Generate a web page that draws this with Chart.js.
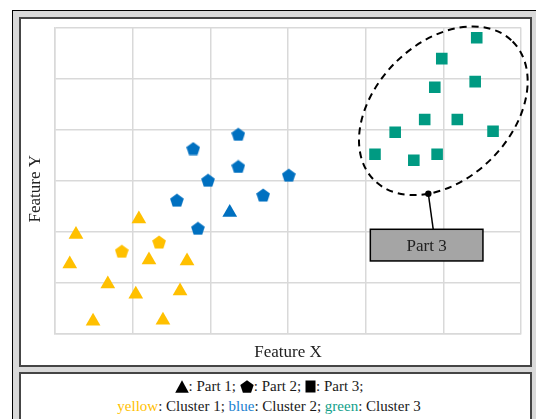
<!DOCTYPE html>
<html>
<head>
<meta charset="utf-8">
<script src="https://cdn.jsdelivr.net/npm/chart.js@4.4.1/dist/chart.umd.min.js"></script>
<style>
    body { margin: 0; background: #ffffff; overflow: hidden; width: 536px; height: 419px; position: relative; }
    #frame { position: absolute; left: 12px; top: 10px; width: 600px; height: 600px; background: #d9d9d9; border-left: 1px solid #000; border-top: 1px solid #000; }
    #panel { position: absolute; left: 19px; top: 17px; width: 509px; height: 346px; border: 2px solid #454545; background: #fff; }
    #legend { position: absolute; left: 19px; top: 372px; width: 509px; height: 80px; border: 2px solid #454545; background: #fff;
              font-family: "Liberation Serif", serif; font-size: 15px; line-height: 20px; color: #1a1a1a; text-align: center;
              box-sizing: content-box; padding-top: 2px; }
    #legend .inner { padding-right: 13px; }
    #legend svg { vertical-align: -2px; }
</style>
</head>
<body>
<div id="frame"></div>
<div id="panel"><canvas id="chart" width="509" height="346"></canvas></div>
<div id="legend"><div class="inner">
    <div><svg width="14" height="13" viewBox="0 0 14 13"><polygon points="7,0.3 13.8,12.7 0.2,12.7" fill="#000"/></svg>: Part 1;
        <svg width="14" height="13" viewBox="0 0 14 13"><polygon points="7,0.3 13.7,5 11.1,12.7 2.9,12.7 0.3,5" fill="#000"/></svg>: Part 2;
        <svg width="11" height="13" viewBox="0 0 11 13"><rect x="0.5" y="0.5" width="10" height="12" fill="#000"/></svg>: Part 3;</div>
    <div><span style="color:#ffc000">yellow</span>: Cluster 1; <span style="color:#1a7fd0">blue</span>: Cluster 2; <span style="color:#10a08a">green</span>: Cluster 3</div>
</div></div>

<script>
// cluster 1 (yellow)
const c1TriX = [0.27, 1.08, 0.19, 1.21, 1.70, 0.68, 1.04, 1.61, 0.49, 1.39];
const c1TriY = [1.95, 2.25, 1.37, 1.45, 1.43, 0.98, 0.78, 0.84, 0.25, 0.27];
const c1PentX = [0.86, 1.34];
const c1PentY = [1.62, 1.80];

// cluster 2 (blue)
const c2TriX = [2.25];
const c2TriY = [2.38];
const c2PentX = [2.36, 1.78, 2.36, 1.97, 2.68, 1.57, 1.84, 3.01];
const c2PentY = [3.91, 3.63, 3.28, 3.01, 2.72, 2.62, 2.07, 3.11];

// cluster 3 (green)
const c3SqX = [5.43, 4.98, 5.41, 4.89, 4.76, 5.18, 4.38, 5.64, 4.12, 4.62, 4.92];
const c3SqY = [5.80, 5.39, 4.94, 4.83, 4.20, 4.20, 3.95, 3.97, 3.52, 3.40, 3.52];

const axisMin = 0;
const axisMax = 6;

const YELLOW = '#ffc000';
const BLUE = '#0070c0';
const GREEN = '#009a82';
const SERIF = '"Liberation Serif", "Times New Roman", serif';

function zip(xs, ys) {
    return xs.map((x, i) => ({ x: x, y: ys[i] }));
}

function makePentagon(color, r) {
    const w = 2 * r * Math.sin(2 * Math.PI / 5);
    const h = r * (1 + Math.cos(Math.PI / 5));
    const c = document.createElement('canvas');
    c.width = Math.ceil(w);
    c.height = Math.ceil(h);
    const ctx = c.getContext('2d');
    const cx = c.width / 2;
    const cy = r + (c.height - h) / 2;
    ctx.beginPath();
    for (let k = 0; k < 5; k++) {
        const a = -Math.PI / 2 + k * 2 * Math.PI / 5;
        const px = cx + r * Math.cos(a);
        const py = cy + r * Math.sin(a);
        if (k === 0) ctx.moveTo(px, py); else ctx.lineTo(px, py);
    }
    ctx.closePath();
    ctx.fillStyle = color;
    ctx.fill();
    return c;
}

// dashed ellipse around part 3 plus the "Part 3" callout
const ellipse = { cx: 5.0, cy: 4.37, rx: 98, ry: 68, angle: -Math.PI / 4, anchorT: 3 * Math.PI / 4 };
const callout = { x0: 4.06, x1: 5.51, y0: 1.43, y1: 2.05, lineX: 4.87, text: 'Part 3' };

const annotationPlugin = {
    id: 'annotations',
    afterDatasetsDraw(chart) {
        const ctx = chart.ctx;
        const xs = chart.scales.x;
        const ys = chart.scales.y;
        const cx = xs.getPixelForValue(ellipse.cx);
        const cy = ys.getPixelForValue(ellipse.cy);

        ctx.save();
        ctx.strokeStyle = '#000';
        ctx.lineWidth = 2;
        ctx.setLineDash([7, 5]);
        ctx.beginPath();
        ctx.ellipse(cx, cy, ellipse.rx, ellipse.ry, ellipse.angle, 0, 2 * Math.PI);
        ctx.stroke();
        ctx.setLineDash([]);

        // anchor on the ellipse
        const u = ellipse.rx * Math.cos(ellipse.anchorT);
        const v = ellipse.ry * Math.sin(ellipse.anchorT);
        const ax = cx + u * Math.cos(ellipse.angle) - v * Math.sin(ellipse.angle);
        const ay = cy + u * Math.sin(ellipse.angle) + v * Math.cos(ellipse.angle);

        const bx0 = xs.getPixelForValue(callout.x0);
        const bx1 = xs.getPixelForValue(callout.x1);
        const by0 = ys.getPixelForValue(callout.y1);
        const by1 = ys.getPixelForValue(callout.y0);

        ctx.lineWidth = 1.5;
        ctx.beginPath();
        ctx.moveTo(ax, ay);
        ctx.lineTo(xs.getPixelForValue(callout.lineX), by0);
        ctx.stroke();

        ctx.fillStyle = '#000';
        ctx.beginPath();
        ctx.arc(ax, ay, 3.2, 0, 2 * Math.PI);
        ctx.fill();

        ctx.fillStyle = '#a5a5a5';
        ctx.fillRect(bx0, by0, bx1 - bx0, by1 - by0);
        ctx.strokeRect(bx0, by0, bx1 - bx0, by1 - by0);

        ctx.fillStyle = '#222';
        ctx.font = '17px ' + SERIF;
        ctx.textAlign = 'center';
        ctx.textBaseline = 'middle';
        ctx.fillText(callout.text, (bx0 + bx1) / 2, (by0 + by1) / 2 + 1);

        // y axis title
        const area = chart.chartArea;
        ctx.translate(15, (area.top + area.bottom) / 2 + 8);
        ctx.rotate(-Math.PI / 2);
        ctx.fillText('Feature Y', 0, 0);
        ctx.restore();
    }
};

document.addEventListener('DOMContentLoaded', () => {
    const canvas = document.getElementById('chart');

    new Chart(canvas, {
        type: 'scatter',
        data: {
            datasets: [
                { label: 'Cluster 1 Part 1', data: zip(c1TriX, c1TriY), pointStyle: 'triangle', pointRadius: 8.5,
                  backgroundColor: YELLOW, borderWidth: 0 },
                { label: 'Cluster 1 Part 2', data: zip(c1PentX, c1PentY), pointStyle: makePentagon(YELLOW, 7.2),
                  backgroundColor: YELLOW, borderWidth: 0 },
                { label: 'Cluster 2 Part 1', data: zip(c2TriX, c2TriY), pointStyle: 'triangle', pointRadius: 8.5,
                  backgroundColor: BLUE, borderWidth: 0 },
                { label: 'Cluster 2 Part 2', data: zip(c2PentX, c2PentY), pointStyle: makePentagon(BLUE, 7.2),
                  backgroundColor: BLUE, borderWidth: 0 },
                { label: 'Cluster 3 Part 3', data: zip(c3SqX, c3SqY), pointStyle: 'rect', pointRadius: 8.2,
                  backgroundColor: GREEN, borderWidth: 0 },
            ],
        },
        options: {
            responsive: false,
            animation: false,
            layout: { padding: { top: 8, right: 9, left: 0, bottom: 0 } },
            plugins: {
                legend: { display: false },
                tooltip: { enabled: false },
            },
            scales: {
                x: {
                    type: 'linear',
                    min: axisMin,
                    max: axisMax,
                    ticks: { display: false, stepSize: 1 },
                    grid: { color: '#d9d9d9', lineWidth: 1.5, drawTicks: false },
                    border: { color: '#d9d9d9', width: 1.5 },
                    title: { display: true, text: 'Feature X', color: '#222',
                             font: { family: SERIF, size: 17 }, padding: { top: 0, bottom: 2 } },
                    afterFit: (scale) => { scale.height = 31; },
                },
                y: {
                    type: 'linear',
                    min: axisMin,
                    max: axisMax,
                    ticks: { display: false, stepSize: 1 },
                    grid: { color: '#d9d9d9', lineWidth: 1.5, drawTicks: false },
                    border: { color: '#d9d9d9', width: 1.5 },
                    afterFit: (scale) => { scale.width = 34; },
                },
            },
        },
        plugins: [annotationPlugin],
    });
});
</script>
</body>
</html>
